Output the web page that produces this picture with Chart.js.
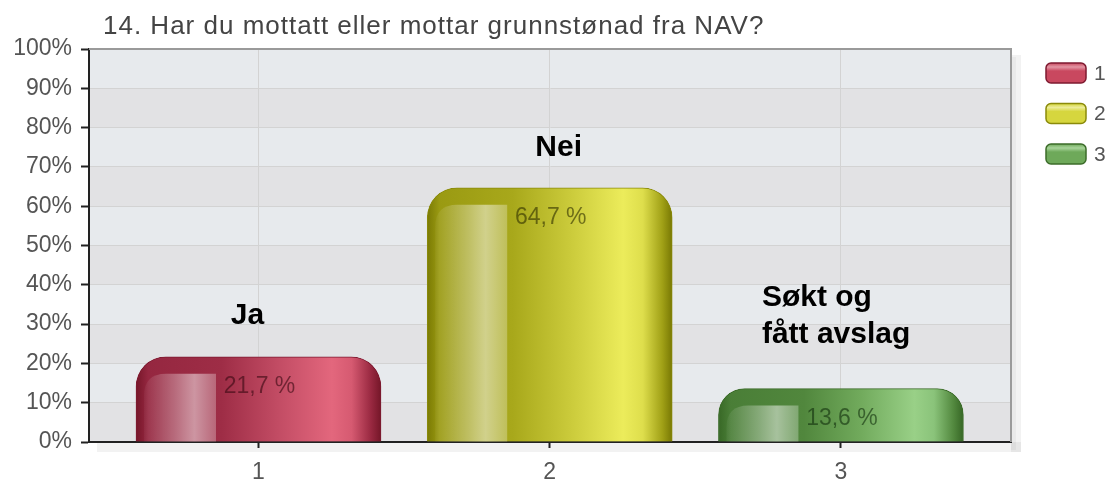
<!DOCTYPE html>
<html>
<head>
<meta charset="utf-8">
<script src="https://cdn.jsdelivr.net/npm/chart.js@4.4.1/dist/chart.umd.min.js"></script>
<style>
    html, body { margin: 0; padding: 0; background: #fff; }
    #wrap { width: 1110px; height: 479px; }
</style>
</head>
<body>
<div id="wrap"><canvas id="chart" width="1110" height="479"></canvas></div>
<script>
const TITLE = '14. Har du mottatt eller mottar grunnstønad fra NAV?';
const categories = ['1', '2', '3'];
const positions = [1, 2, 3];
const shares = [21.7, 64.7, 13.6];
const valueLabels = ['21,7 %', '64,7 %', '13,6 %'];
const answerLines = [['Ja'], ['Nei'], ['Søkt og', 'fått avslag']];
const yTicks = [0, 10, 20, 30, 40, 50, 60, 70, 80, 90, 100];

const FONT = "'Liberation Sans', Arial, Helvetica, sans-serif";
const BAR_W = 245;

// colour ramps across each bar (left edge -> right edge)
const palette = [
    {
        stops: [[0, '#761629'], [0.05, '#952740'], [0.35, '#9e2d46'], [0.58, '#c24c64'],
                [0.8, '#e3677d'], [0.88, '#d65a71'], [0.96, '#982840'], [1, '#741628']],
        legend: '#c9485f', legendTop: '#e396a4', edge: '#7e1a30', text: 'rgba(60,10,20,0.62)'
    },
    {
        stops: [[0, '#7a7a04'], [0.05, '#9a9a12'], [0.35, '#a8a81b'], [0.58, '#caca3a'],
                [0.8, '#ecec5b'], [0.88, '#dede4c'], [0.96, '#a0a016'], [1, '#787804']],
        legend: '#d6d63e', legendTop: '#ecec98', edge: '#8a8a0a', text: 'rgba(50,50,0,0.62)'
    },
    {
        stops: [[0, '#386826'], [0.05, '#4a7e37'], [0.35, '#51873d'], [0.58, '#71aa5c'],
                [0.8, '#99d087'], [0.88, '#8ac37a'], [0.96, '#52883e'], [1, '#366625']],
        legend: '#6ea95a', legendTop: '#a8d49a', edge: '#3c6c2a', text: 'rgba(20,50,15,0.62)'
    }
];

// where the answer captions sit relative to the top of each bar
const answerPlacement = [
    { dx: -11, dy: -33, align: 'center' },
    { dx: 9, dy: -32, align: 'center' },
    { dx: -79, dy: -83, align: 'left' }
];

function barGradient(c) {
    const i = c.dataIndex;
    const pal = palette[i] || palette[0];
    const chart = c.chart;
    if (c.type !== 'data' || !chart.chartArea) return pal.legend;
    const cx = chart.scales.x.getPixelForValue(positions[i]);
    const g = chart.ctx.createLinearGradient(cx - BAR_W / 2, 0, cx + BAR_W / 2, 0);
    pal.stops.forEach(([o, col]) => g.addColorStop(o, col));
    return g;
}

function roundTopRect(ctx, x, y, w, h, r) {
    ctx.beginPath();
    ctx.moveTo(x, y + h);
    ctx.lineTo(x, y + r);
    ctx.quadraticCurveTo(x, y, x + r, y);
    ctx.lineTo(x + w, y);
    ctx.lineTo(x + w, y + h);
    ctx.closePath();
}

function roundRect(ctx, x, y, w, h, r) {
    ctx.beginPath();
    ctx.moveTo(x + r, y);
    ctx.arcTo(x + w, y, x + w, y + h, r);
    ctx.arcTo(x + w, y + h, x, y + h, r);
    ctx.arcTo(x, y + h, x, y, r);
    ctx.arcTo(x, y, x + w, y, r);
    ctx.closePath();
}

const backdrop = {
    id: 'backdrop',
    beforeDraw(chart) {
        const { ctx, chartArea: a, scales: { y } } = chart;
        ctx.save();
        // soft shadow right and below the plot
        ctx.fillStyle = 'rgba(0,0,0,0.05)';
        ctx.fillRect(a.right, a.top + 6, 10, a.bottom - a.top + 4);
        ctx.fillRect(a.left + 8, a.bottom, a.right - a.left + 2, 10);
        ctx.fillStyle = 'rgba(0,0,0,0.04)';
        ctx.fillRect(a.right, a.top + 8, 5, a.bottom - a.top);
        // alternating bands
        for (let i = 0; i < yTicks.length - 1; i++) {
            const top = y.getPixelForValue(yTicks[i + 1]);
            const bot = y.getPixelForValue(yTicks[i]);
            ctx.fillStyle = i % 2 ? '#e7eaed' : '#e2e2e4';
            ctx.fillRect(a.left, top, a.right - a.left, bot - top);
        }
        ctx.restore();
    },
    afterDatasetsDraw(chart) {
        const { ctx } = chart;
        const meta = chart.getDatasetMeta(0);
        ctx.save();
        meta.data.forEach((bar, i) => {
            const { x, y, base, width } = bar.getProps(['x', 'y', 'base', 'width'], true);
            const left = x - width / 2;
            // glossy highlight on the left side
            const gx = left + 8, gw = 72, gy = y + 17;
            if (base - gy > 4) {
                const g = ctx.createLinearGradient(gx, 0, gx + gw, 0);
                g.addColorStop(0, 'rgba(255,255,255,0.04)');
                g.addColorStop(0.45, 'rgba(255,255,255,0.32)');
                g.addColorStop(0.7, 'rgba(255,255,255,0.5)');
                g.addColorStop(1, 'rgba(255,255,255,0.28)');
                ctx.fillStyle = g;
                roundTopRect(ctx, gx, gy, gw, base - gy, Math.min(22, base - gy));
                ctx.fill();
            }
            // value label
            ctx.font = '23px ' + FONT;
            ctx.fillStyle = palette[i].text;
            ctx.textAlign = 'center';
            ctx.textBaseline = 'alphabetic';
            ctx.fillText(valueLabels[i], x + 1, y + 36);
            // answer caption
            const p = answerPlacement[i];
            ctx.font = 'bold 30px ' + FONT;
            ctx.fillStyle = '#000';
            ctx.textAlign = p.align;
            answerLines[i].forEach((line, k) => {
                ctx.fillText(line, x + p.dx, y + p.dy + k * 37);
            });
        });
        ctx.restore();
    },
    afterDraw(chart) {
        const { ctx, chartArea: a } = chart;
        ctx.save();
        // grey frame top and right
        ctx.strokeStyle = '#9a9a9a';
        ctx.lineWidth = 2;
        ctx.beginPath();
        ctx.moveTo(a.left, a.top);
        ctx.lineTo(a.right, a.top);
        ctx.lineTo(a.right, a.bottom);
        ctx.stroke();

        // title
        ctx.font = '26px ' + FONT;
        ctx.fillStyle = '#444';
        ctx.textAlign = 'left';
        ctx.textBaseline = 'alphabetic';
        if ('letterSpacing' in ctx) ctx.letterSpacing = '1px';
        ctx.fillText(TITLE, 103, 34);
        if ('letterSpacing' in ctx) ctx.letterSpacing = '0px';

        // legend
        categories.forEach((cat, i) => {
            const bx = 1046, by = 63 + i * 40.5, bw = 40, bh = 20;
            const pal = palette[i];
            const g = ctx.createLinearGradient(0, by, 0, by + bh);
            g.addColorStop(0, pal.legend);
            g.addColorStop(0.2, pal.legendTop);
            g.addColorStop(0.4, pal.legend);
            g.addColorStop(1, pal.legend);
            ctx.fillStyle = g;
            roundRect(ctx, bx, by, bw, bh, 5);
            ctx.fill();
            ctx.strokeStyle = pal.edge;
            ctx.lineWidth = 1.5;
            ctx.stroke();
            ctx.font = '21px ' + FONT;
            ctx.fillStyle = '#555';
            ctx.textBaseline = 'middle';
            ctx.fillText(cat, 1094, by + bh / 2 + 1);
        });
        ctx.restore();
    }
};

Chart.defaults.font.family = FONT;

const chart = new Chart(document.getElementById('chart'), {
    type: 'bar',
    data: {
        datasets: [{
            data: shares.map((v, i) => ({ x: positions[i], y: v })),
            backgroundColor: barGradient,
            borderColor: (c) => (palette[c.dataIndex] || palette[0]).edge,
            borderWidth: 1,
            borderSkipped: 'start',
            borderRadius: 30,
            barThickness: BAR_W
        }]
    },
    options: {
        responsive: false,
        animation: false,
        layout: { padding: { top: 49, right: 99, left: 0, bottom: 0 } },
        plugins: {
            legend: { display: false },
            title: { display: false },
            tooltip: { enabled: false }
        },
        scales: {
            x: {
                type: 'linear',
                offset: false,
                min: 0.418,
                max: 3.584,
                afterBuildTicks: (s) => { s.ticks = positions.map(v => ({ value: v })); },
                afterFit: (s) => { s.height = 37; },
                grid: { offset: false, color: '#d3d3d3', lineWidth: 1, tickColor: '#222', tickLength: 6, tickWidth: 2 },
                border: { color: '#222', width: 2 },
                ticks: {
                    padding: 11,
                    color: '#555',
                    font: { size: 23 },
                    maxRotation: 0,
                    callback: (v) => categories[positions.indexOf(v)] || ''
                }
            },
            y: {
                min: 0,
                max: 100,
                afterBuildTicks: (s) => { s.ticks = yTicks.map(v => ({ value: v })); },
                afterFit: (s) => { s.width = 89; },
                grid: { color: '#d3d3d3', lineWidth: 1, tickColor: '#222', tickLength: 8, tickWidth: 2 },
                border: { color: '#222', width: 2 },
                ticks: {
                    padding: 9,
                    color: '#555',
                    font: { size: 23 },
                    callback: (v) => v + '%'
                }
            }
        }
    },
    plugins: [backdrop]
});
</script>
</body>
</html>
